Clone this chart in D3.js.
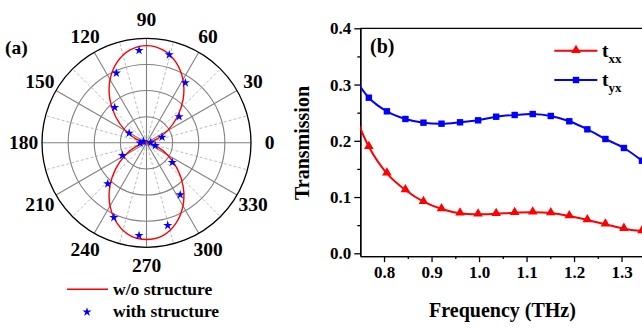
<!DOCTYPE html>
<html>
<head>
<meta charset="utf-8">
<script src="https://cdn.jsdelivr.net/npm/d3@7"></script>
<style>
  body { margin: 0; background: #fff; }
  text { font-family: "Liberation Serif", "Times New Roman", serif; font-weight: bold; fill: #000; }
</style>
</head>
<body>
<script>
// ---- data (a): polar
const curveAngles = [0,10,20,30,40,50,60,70,80,90,100,110,120,130,140,150,160,170,
                     180,190,200,210,220,230,240,250,260,270,280,290,300,310,320,330,340,350];
const curveR = [0,0.028,0.109,0.233,0.384,0.546,0.698,0.821,0.902,0.93,0.902,0.821,0.698,0.546,0.384,0.233,0.109,0.028,
                0,0.028,0.109,0.233,0.384,0.546,0.698,0.821,0.902,0.925,0.902,0.821,0.698,0.546,0.384,0.233,0.109,0.028];
const starAngles = [4, 20, 38.7, 57.1, 75.5, 94.6, 113.4, 132, 151, 158, 182, 207.7, 226.6, 246.4, 265.4, 284.4, 303, 322.7, 343];
const starR = [0.04, 0.158, 0.40, 0.684, 0.87, 0.887, 0.727, 0.455, 0.19, 0.033, 0.062, 0.26, 0.54, 0.78, 0.89, 0.817, 0.593, 0.31, 0.088];
const angleLabels = [0, 30, 60, 90, 120, 150, 180, 210, 240, 270, 300, 330];
const rings = [0.25, 0.5, 0.75, 1];

// ---- data (b): transmission
const freqLine = [0.730, 0.768, 0.806, 0.845, 0.883, 0.921, 0.960, 0.998, 1.036, 1.075, 1.113, 1.151, 1.190, 1.228, 1.266, 1.305, 1.343];
const txx = [0.266, 0.1895, 0.1422, 0.1125, 0.0917, 0.0788, 0.0711, 0.0693, 0.0704, 0.0722, 0.0729, 0.0716, 0.0663, 0.0592, 0.0516, 0.0438, 0.0396];
const tyx = [0.323, 0.2766, 0.2524, 0.2388, 0.2322, 0.2304, 0.2329, 0.2364, 0.2428, 0.2459, 0.2476, 0.2441, 0.2347, 0.2204, 0.2032, 0.1872, 0.1646];
const xTicks = [0.8, 0.9, 1.0, 1.1, 1.2, 1.3];
const xMinor = [0.85, 0.95, 1.05, 1.15, 1.25];
const yTicks = [0.0, 0.1, 0.2, 0.3, 0.4];
const yMinor = [0.05, 0.15, 0.25, 0.35];

const width = 642, height = 329;
const svg = d3.select("body").append("svg")
    .attr("width", width)
    .attr("height", height);

// ================= (a) polar plot =================
const cx = 146.5, cy = 142.8;
const r = d3.scaleLinear().domain([0, 1]).range([0, 104.5]);
const rad = deg => deg * Math.PI / 180;
const px = (deg, v) => cx + r(v) * Math.cos(rad(deg));
const py = (deg, v) => cy - r(v) * Math.sin(rad(deg));

const polar = svg.append("g");

// dashed spokes
polar.selectAll(".spokeMinor")
    .data(d3.range(15, 360, 30))
    .enter().append("line")
    .attr("x1", cx).attr("y1", cy)
    .attr("x2", d => px(d, 1)).attr("y2", d => py(d, 1))
    .style("stroke", "#b4b4b4")
    .style("stroke-dasharray", "3,2")
    .style("stroke-width", 0.9);

// solid spokes
polar.selectAll(".spoke")
    .data(angleLabels)
    .enter().append("line")
    .attr("x1", cx).attr("y1", cy)
    .attr("x2", d => px(d, 1)).attr("y2", d => py(d, 1))
    .style("stroke", "#808080")
    .style("stroke-width", 1.1);

polar.selectAll(".ring")
    .data(rings)
    .enter().append("circle")
    .attr("cx", cx).attr("cy", cy)
    .attr("r", d => r(d))
    .style("fill", "none")
    .style("stroke", d => d === 1 ? "#000" : "#808080")
    .style("stroke-width", d => d === 1 ? 1.3 : 1.1);

polar.selectAll(".alabel")
    .data(angleLabels)
    .enter().append("text")
    .attr("x", d => cx + 123 * Math.cos(rad(d)))
    .attr("y", d => cy - 123 * Math.sin(rad(d)))
    .attr("text-anchor", "middle")
    .attr("dominant-baseline", "central")
    .style("font-size", "19.5px")
    .text(d => d);

const curvePts = curveAngles.map((a, i) => [a, curveR[i]]);
const radial = d3.lineRadial()
    .angle(d => rad(90 - d[0]))
    .radius(d => r(d[1]))
    .curve(d3.curveCatmullRomClosed);

polar.append("path")
    .attr("transform", `translate(${cx},${cy})`)
    .attr("d", radial(curvePts))
    .style("fill", "none")
    .style("stroke", "#ff0000")
    .style("stroke-width", 1.4);

const star = d3.symbol().type(d3.symbolStar).size(26);
polar.selectAll(".star")
    .data(starAngles.map((a, i) => [a, starR[i]]))
    .enter().append("path")
    .attr("d", star)
    .attr("transform", d => `translate(${px(d[0], d[1])},${py(d[0], d[1])})`)
    .style("fill", "#0000ff");

svg.append("text").attr("x", 5).attr("y", 54).style("font-size", "19.5px").text("(a)");

// legend (a)
svg.append("line")
    .attr("x1", 67).attr("x2", 108).attr("y1", 289.3).attr("y2", 289.3)
    .style("stroke", "#ff0000").style("stroke-width", 1.4);
svg.append("text").attr("x", 113).attr("y", 295).style("font-size", "17.5px").text("w/o structure");
svg.append("path").attr("d", star).attr("transform", "translate(87,312)").style("fill", "#0000ff");
svg.append("text").attr("x", 113).attr("y", 317).style("font-size", "17.5px").text("with structure");

// ================= (b) transmission =================
const x = d3.scaleLinear().domain([0.75, 1.35]).range([360.3, 645.3]);
const y = d3.scaleLinear().domain([-0.005, 0.4]).range([256.1, 28.3]);

svg.append("clipPath").attr("id", "plotClip")
    .append("rect")
    .attr("x", x.range()[0]).attr("y", y.range()[1])
    .attr("width", x.range()[1] - x.range()[0])
    .attr("height", y.range()[0] - y.range()[1]);

const gx = svg.append("g")
    .attr("transform", `translate(0,${y.range()[0]})`)
    .call(d3.axisBottom(x).tickValues(xTicks).tickFormat(d3.format(".1f")).tickSize(6).tickPadding(4).tickSizeOuter(0));
svg.append("g")
    .attr("transform", `translate(0,${y.range()[0]})`)
    .call(d3.axisBottom(x).tickValues(xMinor).tickFormat("").tickSize(3).tickSizeOuter(0));

const gy = svg.append("g")
    .attr("transform", `translate(${x.range()[0]},0)`)
    .call(d3.axisLeft(y).tickValues(yTicks).tickFormat(d3.format(".1f")).tickSize(6).tickPadding(3).tickSizeOuter(0));
svg.append("g")
    .attr("transform", `translate(${x.range()[0]},0)`)
    .call(d3.axisLeft(y).tickValues(yMinor).tickFormat("").tickSize(3).tickSizeOuter(0));

svg.selectAll(".domain, .tick line").style("stroke", "#000").style("stroke-width", 1.3);
svg.selectAll(".tick text").style("font-size", "17px").style("font-family", "'Liberation Serif', serif").style("font-weight", "bold");

// top frame
svg.append("line")
    .attr("x1", x.range()[0]).attr("x2", x.range()[1])
    .attr("y1", y.range()[1]).attr("y2", y.range()[1])
    .style("stroke", "#000").style("stroke-width", 1.3);
svg.append("line")
    .attr("x1", x.range()[1]).attr("x2", x.range()[1])
    .attr("y1", y.range()[1]).attr("y2", y.range()[0])
    .style("stroke", "#000").style("stroke-width", 1.3);

const plot = svg.append("g").attr("clip-path", "url(#plotClip)");
const line = d3.line().x(d => x(d[0])).y(d => y(d[1])).curve(d3.curveCatmullRom);

const series = [
    { name: "xx", values: txx, color: "#ff0000", marker: "tri" },
    { name: "yx", values: tyx, color: "#0000ff", marker: "sq" }
];

const tri = d3.symbol().type(d3.symbolTriangle).size(40);

function drawMarker(g, s, px_, py_) {
    if (s.marker === "tri") {
        g.append("path").attr("d", tri).attr("transform", `translate(${px_},${py_ - 0.5})`).style("fill", s.color);
    } else {
        g.append("rect").attr("x", px_ - 3.2).attr("y", py_ - 3.2).attr("width", 6.4).attr("height", 6.4).style("fill", s.color);
    }
}

series.forEach(s => {
    const pts = freqLine.map((f, i) => [f, s.values[i]]);
    plot.append("path")
        .attr("d", line(pts))
        .style("fill", "none")
        .style("stroke", s.color)
        .style("stroke-width", 2);
    pts.slice(1).forEach(p => drawMarker(plot, s, x(p[0]), y(p[1])));
});

// legend (b)
const legendY = [50.7, 80];
series.forEach((s, i) => {
    svg.append("line")
        .attr("x1", 554.3).attr("x2", 597.3).attr("y1", legendY[i]).attr("y2", legendY[i])
        .style("stroke", s.color).style("stroke-width", 2);
    drawMarker(svg, s, 576, legendY[i]);
    const t = svg.append("text").attr("x", 602).attr("y", legendY[i] + 6).style("font-size", "19.5px");
    t.append("tspan").text("t");
    t.append("tspan").attr("dy", 6).style("font-size", "13px").text(s.name);
});

svg.append("text").attr("x", 370).attr("y", 52.5).style("font-size", "20px").text("(b)");

svg.append("text")
    .attr("transform", `translate(309,143) rotate(-90)`)
    .attr("text-anchor", "middle")
    .style("font-size", "20px")
    .text("Transmission");

svg.append("text")
    .attr("x", 502.5).attr("y", 317)
    .attr("text-anchor", "middle")
    .style("font-size", "20px")
    .text("Frequency (THz)");
</script>
</body>
</html>
